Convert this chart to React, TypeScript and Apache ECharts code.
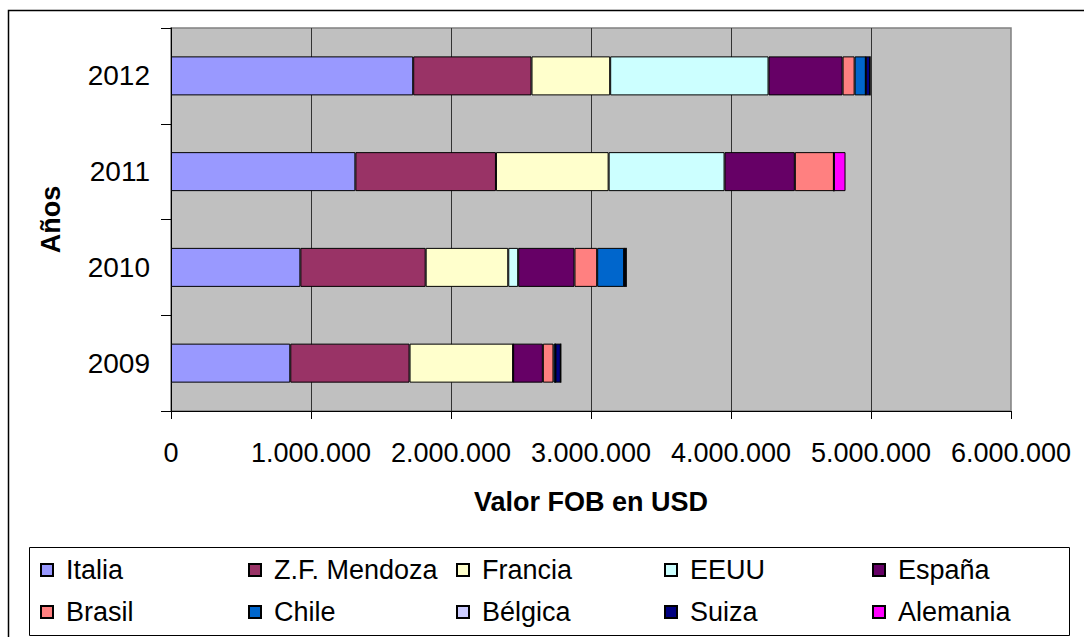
import React, { useEffect, useRef } from "react";
import * as echarts from "echarts";

const years = ["2009", "2010", "2011", "2012"];
const countries = ["Italia", "Z.F. Mendoza", "Francia", "EEUU", "España", "Brasil", "Chile", "Bélgica", "Suiza", "Alemania"];
const italia = [852000, 924000, 1317000, 1730000];
const zfMendoza = [852000, 895000, 1004000, 845000];
const francia = [740000, 590000, 805000, 562000];
const eeuu = [0, 71000, 828000, 1131000];
const espana = [212000, 402000, 502000, 529000];
const brasil = [76000, 162000, 279000, 86000];
const chile = [14000, 193000, 0, 80000];
const belgica = [0, 0, 0, 0];
const suiza = [38000, 14000, 0, 30000];
const alemania = [0, 0, 83000, 0];
const xTicks = [0, 1000000, 2000000, 3000000, 4000000, 5000000, 6000000];

const seriesValues = [italia, zfMendoza, francia, eeuu, espana, brasil, chile, belgica, suiza, alemania];
const colors = ["#9999FF", "#993366", "#FFFFCC", "#CCFFFF", "#660066", "#FF8080", "#0066CC", "#CCCCFF", "#000080", "#FF00FF"];

const FONT = "'Liberation Sans', Arial, sans-serif";

const fmt = (v: number) => String(Math.round(v)).replace(/\B(?=(\d{3})+(?!\d))/g, ".");

export default function App() {
  const ref = useRef<HTMLDivElement>(null);
  useEffect(() => {
    if (!ref.current) return;
    const chart = echarts.init(ref.current, undefined, { renderer: "svg" });
    chart.setOption({
      animation: false,
      backgroundColor: "#ffffff",
      textStyle: { fontFamily: FONT },
      graphic: [
        { type: "rect", shape: { x: 8.5, y: 10.5, width: 1200, height: 800 }, style: { fill: "none", stroke: "#000", lineWidth: 1.5 }, silent: true, z: -10 },
        { type: "rect", shape: { x: 29.5, y: 547.5, width: 1040, height: 88 }, style: { fill: "#fff", stroke: "#000", lineWidth: 1 }, silent: true, z: -5 },
      ],
      grid: {
        left: 171, top: 28, right: 73, bottom: 226,
        show: true, backgroundColor: "#C0C0C0", borderColor: "#808080", borderWidth: 1.5,
        containLabel: false,
      },
      legend: {
        data: countries,
        left: 40, top: 554, width: 1040, padding: 0,
        orient: "horizontal",
        itemWidth: 12, itemHeight: 12, itemGap: 10,
        icon: "rect",
        textStyle: { fontFamily: FONT, fontSize: 27, color: "#000", width: 172, lineHeight: 32, padding: [0, 0, 0, 8] },
      },
      xAxis: {
        type: "value",
        min: xTicks[0], max: xTicks[xTicks.length - 1], interval: xTicks[1] - xTicks[0],
        name: "Valor FOB en USD", nameLocation: "middle", nameGap: 77,
        nameTextStyle: { fontFamily: FONT, fontSize: 27, fontWeight: "bold", color: "#000" },
        axisLine: { show: true, lineStyle: { color: "#000", width: 1 } },
        axisTick: { show: true, length: 8, lineStyle: { color: "#000" } },
        axisLabel: { fontFamily: FONT, fontSize: 27, color: "#000", margin: 28, formatter: (v: number) => fmt(v) },
        splitLine: { show: true, showMaxLine: false, showMinLine: false, lineStyle: { color: "#333", width: 1 } },
      },
      yAxis: {
        type: "category",
        data: years,
        name: "Años", nameLocation: "middle", nameGap: 107, nameRotate: 90,
        nameTextStyle: { fontFamily: FONT, fontSize: 27, fontWeight: "bold", color: "#000" },
        axisLine: { show: true, lineStyle: { color: "#000", width: 1 } },
        axisTick: { show: true, length: 10, alignWithLabel: false, lineStyle: { color: "#000" } },
        axisLabel: { fontFamily: FONT, fontSize: 28, color: "#000", margin: 21 },
        splitLine: { show: false },
      },
      series: countries.map((name, i) => ({
        name,
        type: "bar",
        stack: "total",
        barWidth: 39,
        data: seriesValues[i],
        itemStyle: { color: colors[i], borderColor: "#000", borderWidth: 1 },
      })),
    });
    return () => chart.dispose();
  }, []);
  return <div ref={ref} style={{ width: 1084, height: 637, position: "absolute", left: 0, top: 0 }} />;
}
